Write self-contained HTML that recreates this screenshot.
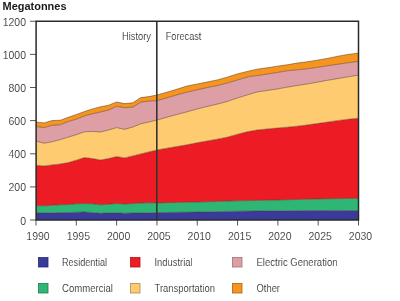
<!DOCTYPE html>
<html><head><meta charset="utf-8"><style>
html,body{margin:0;padding:0;background:#fff;width:400px;height:301px;overflow:hidden}
svg{display:block;will-change:transform}
text{font-family:"Liberation Sans",sans-serif;fill:#222;stroke:#fff;stroke-width:0.15px}
.ax{font-size:10.5px}
.lg{font-size:10px}
</style></head><body>
<svg width="400" height="301" viewBox="0 0 400 301">
<rect width="400" height="301" fill="#fff"/>
<text x="2.5" y="10" style="font-weight:bold;font-size:10.8px;fill:#1a1a1a;stroke:none" textLength="64" lengthAdjust="spacingAndGlyphs">Megatonnes</text>
<polygon points="36.00,213.00 44.06,213.00 52.12,212.80 60.19,212.60 68.25,212.50 76.31,212.20 84.38,212.00 92.44,212.50 100.50,213.30 108.56,212.80 116.62,212.80 124.69,213.20 132.75,213.00 140.81,213.00 148.88,212.80 156.90,212.60 197.00,212.00 237.00,211.20 277.00,210.80 318.00,210.50 358.50,210.60 358.50,220.00 36.00,220.00" fill="#3a3a9a"/><polygon points="36.00,205.50 44.06,205.80 52.12,205.20 60.19,204.70 68.25,204.50 76.31,203.80 84.38,203.50 92.44,203.80 100.50,204.80 108.56,204.20 116.62,203.50 124.69,204.00 132.75,203.50 140.81,203.00 148.88,202.80 156.90,202.90 197.00,202.00 237.00,200.80 277.00,200.00 318.00,198.90 358.50,198.30 358.50,210.60 318.00,210.50 277.00,210.80 237.00,211.20 197.00,212.00 156.90,212.60 148.88,212.80 140.81,213.00 132.75,213.00 124.69,213.20 116.62,212.80 108.56,212.80 100.50,213.30 92.44,212.50 84.38,212.00 76.31,212.20 68.25,212.50 60.19,212.60 52.12,212.80 44.06,213.00 36.00,213.00" fill="#2fb574"/><polygon points="36.00,165.30 44.06,166.00 52.12,164.90 60.19,164.00 68.25,162.60 76.31,160.20 84.38,157.60 92.44,158.60 100.50,160.00 108.56,158.60 116.62,156.60 124.69,157.90 132.75,155.90 140.81,153.90 148.88,151.90 156.90,150.00 167.00,148.20 177.00,146.50 187.00,144.80 197.00,142.80 207.00,141.00 217.00,139.20 227.00,137.20 237.00,134.40 247.00,131.80 257.00,130.00 267.00,129.00 277.00,128.10 287.00,127.20 297.00,126.20 307.00,125.00 317.00,123.60 328.00,122.00 339.00,120.40 350.00,119.10 358.50,118.20 358.50,198.30 318.00,198.90 277.00,200.00 237.00,200.80 197.00,202.00 156.90,202.90 148.88,202.80 140.81,203.00 132.75,203.50 124.69,204.00 116.62,203.50 108.56,204.20 100.50,204.80 92.44,203.80 84.38,203.50 76.31,203.80 68.25,204.50 60.19,204.70 52.12,205.20 44.06,205.80 36.00,205.50" fill="#ed1c24"/><polygon points="36.00,141.20 44.06,143.20 52.12,141.80 60.19,139.60 68.25,137.10 76.31,134.70 84.38,131.80 92.44,131.40 100.50,132.00 108.56,130.00 116.62,127.60 124.69,129.40 132.75,127.00 140.81,123.80 148.88,122.00 156.90,120.00 167.00,117.20 177.00,114.50 187.00,111.80 197.00,109.00 207.00,106.50 217.00,104.20 227.00,101.50 237.00,98.10 247.00,95.00 257.00,92.00 267.00,90.50 277.00,89.00 287.00,87.20 297.00,85.50 307.00,84.00 317.00,82.20 328.00,80.20 339.00,78.40 350.00,76.50 358.50,75.00 358.50,118.20 350.00,119.10 339.00,120.40 328.00,122.00 317.00,123.60 307.00,125.00 297.00,126.20 287.00,127.20 277.00,128.10 267.00,129.00 257.00,130.00 247.00,131.80 237.00,134.40 227.00,137.20 217.00,139.20 207.00,141.00 197.00,142.80 187.00,144.80 177.00,146.50 167.00,148.20 156.90,150.00 148.88,151.90 140.81,153.90 132.75,155.90 124.69,157.90 116.62,156.60 108.56,158.60 100.50,160.00 92.44,158.60 84.38,157.60 76.31,160.20 68.25,162.60 60.19,164.00 52.12,164.90 44.06,166.00 36.00,165.30" fill="#fecb70"/><polygon points="36.00,126.50 44.06,127.60 52.12,125.30 60.19,124.80 68.25,121.60 76.31,119.20 84.38,115.90 92.44,113.80 100.50,112.00 108.56,110.00 116.62,106.30 124.69,107.70 132.75,107.10 140.81,102.20 148.88,101.10 156.90,100.60 165.00,98.40 175.00,95.40 187.00,92.10 197.20,89.80 207.00,87.60 217.00,85.60 227.00,83.10 237.00,80.10 247.00,77.10 252.00,76.10 257.00,75.60 267.00,74.10 277.00,72.50 287.00,70.80 297.00,69.80 307.00,68.80 317.00,67.40 327.00,65.80 337.00,64.40 346.00,63.00 358.50,61.40 358.50,75.00 350.00,76.50 339.00,78.40 328.00,80.20 317.00,82.20 307.00,84.00 297.00,85.50 287.00,87.20 277.00,89.00 267.00,90.50 257.00,92.00 247.00,95.00 237.00,98.10 227.00,101.50 217.00,104.20 207.00,106.50 197.00,109.00 187.00,111.80 177.00,114.50 167.00,117.20 156.90,120.00 148.88,122.00 140.81,123.80 132.75,127.00 124.69,129.40 116.62,127.60 108.56,130.00 100.50,132.00 92.44,131.40 84.38,131.80 76.31,134.70 68.25,137.10 60.19,139.60 52.12,141.80 44.06,143.20 36.00,141.20" fill="#dd9ea6"/><polygon points="36.00,122.00 44.06,122.90 52.12,120.50 60.19,120.30 68.25,117.30 76.31,114.50 84.38,111.60 92.44,108.90 100.50,106.80 108.56,105.20 116.62,102.00 124.69,103.60 132.75,102.80 140.81,97.60 148.88,96.60 156.90,95.00 165.00,92.80 175.00,89.80 187.00,86.00 197.20,84.00 207.00,82.00 217.00,80.00 227.00,77.20 237.00,74.00 247.00,71.50 257.00,69.20 267.00,67.80 277.00,66.20 287.00,64.80 297.00,63.10 307.00,61.80 317.00,60.20 327.00,58.50 338.00,56.20 346.00,54.80 358.50,53.00 358.50,61.40 346.00,63.00 337.00,64.40 327.00,65.80 317.00,67.40 307.00,68.80 297.00,69.80 287.00,70.80 277.00,72.50 267.00,74.10 257.00,75.60 252.00,76.10 247.00,77.10 237.00,80.10 227.00,83.10 217.00,85.60 207.00,87.60 197.20,89.80 187.00,92.10 175.00,95.40 165.00,98.40 156.90,100.60 148.88,101.10 140.81,102.20 132.75,107.10 124.69,107.70 116.62,106.30 108.56,110.00 100.50,112.00 92.44,113.80 84.38,115.90 76.31,119.20 68.25,121.60 60.19,124.80 52.12,125.30 44.06,127.60 36.00,126.50" fill="#f7941d"/>
<polyline points="36.00,213.00 44.06,213.00 52.12,212.80 60.19,212.60 68.25,212.50 76.31,212.20 84.38,212.00 92.44,212.50 100.50,213.30 108.56,212.80 116.62,212.80 124.69,213.20 132.75,213.00 140.81,213.00 148.88,212.80 156.90,212.60 197.00,212.00 237.00,211.20 277.00,210.80 318.00,210.50 358.50,210.60" fill="none" stroke="#4a3520" stroke-opacity="0.7" stroke-width="0.7"/><polyline points="36.00,205.50 44.06,205.80 52.12,205.20 60.19,204.70 68.25,204.50 76.31,203.80 84.38,203.50 92.44,203.80 100.50,204.80 108.56,204.20 116.62,203.50 124.69,204.00 132.75,203.50 140.81,203.00 148.88,202.80 156.90,202.90 197.00,202.00 237.00,200.80 277.00,200.00 318.00,198.90 358.50,198.30" fill="none" stroke="#4a3520" stroke-opacity="0.7" stroke-width="0.7"/><polyline points="36.00,165.30 44.06,166.00 52.12,164.90 60.19,164.00 68.25,162.60 76.31,160.20 84.38,157.60 92.44,158.60 100.50,160.00 108.56,158.60 116.62,156.60 124.69,157.90 132.75,155.90 140.81,153.90 148.88,151.90 156.90,150.00 167.00,148.20 177.00,146.50 187.00,144.80 197.00,142.80 207.00,141.00 217.00,139.20 227.00,137.20 237.00,134.40 247.00,131.80 257.00,130.00 267.00,129.00 277.00,128.10 287.00,127.20 297.00,126.20 307.00,125.00 317.00,123.60 328.00,122.00 339.00,120.40 350.00,119.10 358.50,118.20" fill="none" stroke="#4a3520" stroke-opacity="0.7" stroke-width="0.7"/><polyline points="36.00,141.20 44.06,143.20 52.12,141.80 60.19,139.60 68.25,137.10 76.31,134.70 84.38,131.80 92.44,131.40 100.50,132.00 108.56,130.00 116.62,127.60 124.69,129.40 132.75,127.00 140.81,123.80 148.88,122.00 156.90,120.00 167.00,117.20 177.00,114.50 187.00,111.80 197.00,109.00 207.00,106.50 217.00,104.20 227.00,101.50 237.00,98.10 247.00,95.00 257.00,92.00 267.00,90.50 277.00,89.00 287.00,87.20 297.00,85.50 307.00,84.00 317.00,82.20 328.00,80.20 339.00,78.40 350.00,76.50 358.50,75.00" fill="none" stroke="#4a3520" stroke-opacity="0.7" stroke-width="0.7"/><polyline points="36.00,126.50 44.06,127.60 52.12,125.30 60.19,124.80 68.25,121.60 76.31,119.20 84.38,115.90 92.44,113.80 100.50,112.00 108.56,110.00 116.62,106.30 124.69,107.70 132.75,107.10 140.81,102.20 148.88,101.10 156.90,100.60 165.00,98.40 175.00,95.40 187.00,92.10 197.20,89.80 207.00,87.60 217.00,85.60 227.00,83.10 237.00,80.10 247.00,77.10 252.00,76.10 257.00,75.60 267.00,74.10 277.00,72.50 287.00,70.80 297.00,69.80 307.00,68.80 317.00,67.40 327.00,65.80 337.00,64.40 346.00,63.00 358.50,61.40" fill="none" stroke="#4a3520" stroke-opacity="0.7" stroke-width="0.7"/><polyline points="36.00,122.00 44.06,122.90 52.12,120.50 60.19,120.30 68.25,117.30 76.31,114.50 84.38,111.60 92.44,108.90 100.50,106.80 108.56,105.20 116.62,102.00 124.69,103.60 132.75,102.80 140.81,97.60 148.88,96.60 156.90,95.00 165.00,92.80 175.00,89.80 187.00,86.00 197.20,84.00 207.00,82.00 217.00,80.00 227.00,77.20 237.00,74.00 247.00,71.50 257.00,69.20 267.00,67.80 277.00,66.20 287.00,64.80 297.00,63.10 307.00,61.80 317.00,60.20 327.00,58.50 338.00,56.20 346.00,54.80 358.50,53.00" fill="none" stroke="#4a3520" stroke-opacity="0.7" stroke-width="0.7"/>
<line x1="156.8" y1="21.25" x2="156.8" y2="220" stroke="#333" stroke-width="1.6"/>
<text x="122" y="39.6" class="lg" textLength="29" lengthAdjust="spacingAndGlyphs">History</text>
<text x="165.7" y="39.8" class="lg" textLength="35.7" lengthAdjust="spacingAndGlyphs">Forecast</text>
<line x1="30" y1="220.00" x2="36" y2="220.00" stroke="#444" stroke-width="0.9"/><text x="26" y="224.50" text-anchor="end" class="ax">0</text><line x1="30" y1="186.90" x2="36" y2="186.90" stroke="#444" stroke-width="0.9"/><text x="26" y="191.40" text-anchor="end" class="ax">200</text><line x1="30" y1="153.80" x2="36" y2="153.80" stroke="#444" stroke-width="0.9"/><text x="26" y="158.30" text-anchor="end" class="ax">400</text><line x1="30" y1="120.60" x2="36" y2="120.60" stroke="#444" stroke-width="0.9"/><text x="26" y="125.10" text-anchor="end" class="ax">600</text><line x1="30" y1="87.50" x2="36" y2="87.50" stroke="#444" stroke-width="0.9"/><text x="26" y="92.00" text-anchor="end" class="ax">800</text><line x1="30" y1="54.40" x2="36" y2="54.40" stroke="#444" stroke-width="0.9"/><text x="26" y="58.90" text-anchor="end" class="ax">1000</text><line x1="30" y1="21.25" x2="36" y2="21.25" stroke="#444" stroke-width="0.9"/><text x="26" y="25.75" text-anchor="end" class="ax">1200</text><line x1="36.00" y1="220" x2="36.00" y2="225.5" stroke="#444" stroke-width="0.9"/><text x="38.00" y="239.5" text-anchor="middle" class="ax">1990</text><line x1="76.31" y1="220" x2="76.31" y2="225.5" stroke="#444" stroke-width="0.9"/><text x="78.31" y="239.5" text-anchor="middle" class="ax">1995</text><line x1="116.62" y1="220" x2="116.62" y2="225.5" stroke="#444" stroke-width="0.9"/><text x="118.62" y="239.5" text-anchor="middle" class="ax">2000</text><line x1="156.94" y1="220" x2="156.94" y2="225.5" stroke="#444" stroke-width="0.9"/><text x="158.94" y="239.5" text-anchor="middle" class="ax">2005</text><line x1="197.25" y1="220" x2="197.25" y2="225.5" stroke="#444" stroke-width="0.9"/><text x="199.25" y="239.5" text-anchor="middle" class="ax">2010</text><line x1="237.56" y1="220" x2="237.56" y2="225.5" stroke="#444" stroke-width="0.9"/><text x="239.56" y="239.5" text-anchor="middle" class="ax">2015</text><line x1="277.88" y1="220" x2="277.88" y2="225.5" stroke="#444" stroke-width="0.9"/><text x="279.88" y="239.5" text-anchor="middle" class="ax">2020</text><line x1="318.19" y1="220" x2="318.19" y2="225.5" stroke="#444" stroke-width="0.9"/><text x="320.19" y="239.5" text-anchor="middle" class="ax">2025</text><line x1="358.50" y1="220" x2="358.50" y2="225.5" stroke="#444" stroke-width="0.9"/><text x="360.50" y="239.5" text-anchor="middle" class="ax">2030</text>
<rect x="36.1" y="21.25" width="322.4" height="198.75" fill="none" stroke="#2a2a2a" stroke-width="1.5"/>
<rect x="38.5" y="257.5" width="9.5" height="9.5" fill="#3a3a9a" stroke="#2a2a70" stroke-width="0.8"/><text x="62" y="265.5" class="lg" textLength="45" lengthAdjust="spacingAndGlyphs">Residential</text><rect x="130.5" y="257.5" width="9.5" height="9.5" fill="#ed1c24" stroke="#b01319" stroke-width="0.8"/><text x="154.5" y="265.5" class="lg" textLength="38" lengthAdjust="spacingAndGlyphs">Industrial</text><rect x="232.5" y="257.5" width="9.5" height="9.5" fill="#dd9ea6" stroke="#a07078" stroke-width="0.8"/><text x="256.5" y="265.5" class="lg" textLength="81" lengthAdjust="spacingAndGlyphs">Electric Generation</text><rect x="38.5" y="283.5" width="9.5" height="9.5" fill="#2fb574" stroke="#1f7a4e" stroke-width="0.8"/><text x="62" y="291.5" class="lg" textLength="51" lengthAdjust="spacingAndGlyphs">Commercial</text><rect x="130.5" y="283.5" width="9.5" height="9.5" fill="#fecb70" stroke="#b08a4f" stroke-width="0.8"/><text x="154.5" y="291.5" class="lg" textLength="60.5" lengthAdjust="spacingAndGlyphs">Transportation</text><rect x="232.5" y="283.5" width="9.5" height="9.5" fill="#f7941d" stroke="#a5621a" stroke-width="0.8"/><text x="256.5" y="291.5" class="lg" textLength="23.5" lengthAdjust="spacingAndGlyphs">Other</text>
</svg>
</body></html>
